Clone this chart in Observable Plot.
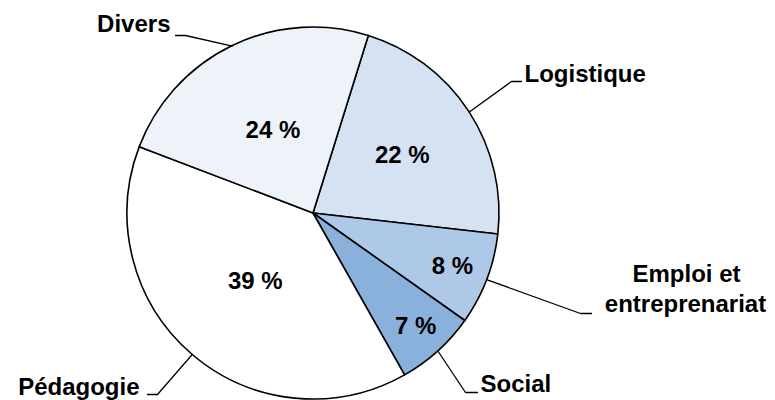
<!DOCTYPE html>
<html>
<head>
<meta charset="utf-8">
<script src="https://cdn.jsdelivr.net/npm/d3@7"></script>
<script src="https://cdn.jsdelivr.net/npm/@observablehq/plot@0.6"></script>
<style>
  html, body { margin: 0; padding: 0; background: #ffffff; }
  #chart { width: 775px; height: 400px; }
</style>
</head>
<body>
<div id="chart"></div>
<script>
// ---- data ----
const categories = ["Logistique", "Emploi et entreprenariat", "Social", "Pédagogie", "Divers"];
const shares = [22, 8, 7, 39, 24];
const pctLabels = ["22 %", "8 %", "7 %", "39 %", "24 %"];
const sliceColors = ["#d5e2f1", "#adc9e7", "#89b1db", "#ffffff", "#eef3f9"];

// ---- layout ----
const W = 775, H = 400;
const CX = 313, CY = 213, R = 186;
const START_DEG = 17.3;
const pctRadius = [0.57, 0.8, 0.82, 0.48, 0.5];
const calloutElbow = [[511, 81], [580, 313], [465, 392], [157, 394], [185, 35]];
const calloutEnd   = [[521, 81], [591, 313], [477, 392], [147, 394], [175, 35]];
const calloutText = [
  [{t: "Logistique", x: 524, y: 74, a: "start"}],
  [{t: "Emploi et", x: 686, y: 274, a: "middle"}, {t: "entreprenariat", x: 685, y: 304, a: "middle"}],
  [{t: "Social", x: 480, y: 384, a: "start"}],
  [{t: "Pédagogie", x: 139, y: 387, a: "end"}],
  [{t: "Divers", x: 170, y: 24, a: "end"}]
];

const startRad = START_DEG * Math.PI / 180;
const rows = categories.map((c, i) => ({cat: c, share: shares[i], label: pctLabels[i], color: sliceColors[i], i}));
const arcs = d3.pie().sort(null).value(d => d.share).startAngle(startRad).endAngle(startRad + 2 * Math.PI)(rows);

const pctData = arcs.map(a => {
  const mid = (a.startAngle + a.endAngle) / 2;
  const r = pctRadius[a.data.i] * R;
  return {x: CX + r * Math.sin(mid), y: CY - r * Math.cos(mid), text: a.data.label};
});

const leaderData = [];
arcs.forEach(a => {
  const mid = (a.startAngle + a.endAngle) / 2;
  const i = a.data.i;
  leaderData.push({cat: a.data.cat, x: CX + R * Math.sin(mid), y: CY - R * Math.cos(mid)});
  leaderData.push({cat: a.data.cat, x: calloutElbow[i][0], y: calloutElbow[i][1]});
  leaderData.push({cat: a.data.cat, x: calloutEnd[i][0], y: calloutEnd[i][1]});
});

const catLabelData = calloutText.flat();

const font = {fontFamily: "'Liberation Sans', Arial, sans-serif", fontWeight: "bold", fontSize: 24};

const slices = (index, scales, values, dimensions) => {
  const cx = scales.x(CX), cy = scales.y(CY);
  const rr = scales.x(CX + R) - scales.x(CX);
  const arcGen = d3.arc().innerRadius(0).outerRadius(rr);
  const g = d3.create("svg:g").attr("transform", `translate(${cx},${cy})`);
  g.selectAll("path").data(arcs).join("path")
    .attr("d", arcGen)
    .attr("fill", d => d.data.color)
    .attr("stroke", "#000000")
    .attr("stroke-width", 1.6)
    .attr("stroke-linejoin", "round");
  return g.node();
};

const labelMarks = ["start", "middle", "end"].map(anchor =>
  Plot.text(catLabelData.filter(d => d.a === anchor),
    {x: "x", y: "y", text: "t", textAnchor: anchor, fill: "#000000", ...font})
);

const chart = Plot.plot({
  width: W,
  height: H,
  margin: 0,
  x: {domain: [0, W], range: [0, W], axis: null},
  y: {domain: [0, H], range: [0, H], axis: null},
  style: {background: "#ffffff", overflow: "visible"},
  marks: [
    slices,
    Plot.line(leaderData, {x: "x", y: "y", z: "cat", stroke: "#000000", strokeWidth: 1.3, curve: "linear"}),
    Plot.text(pctData, {x: "x", y: "y", text: "text", fill: "#000000", ...font}),
    ...labelMarks
  ]
});
document.getElementById("chart").appendChild(chart);
</script>
</body>
</html>
